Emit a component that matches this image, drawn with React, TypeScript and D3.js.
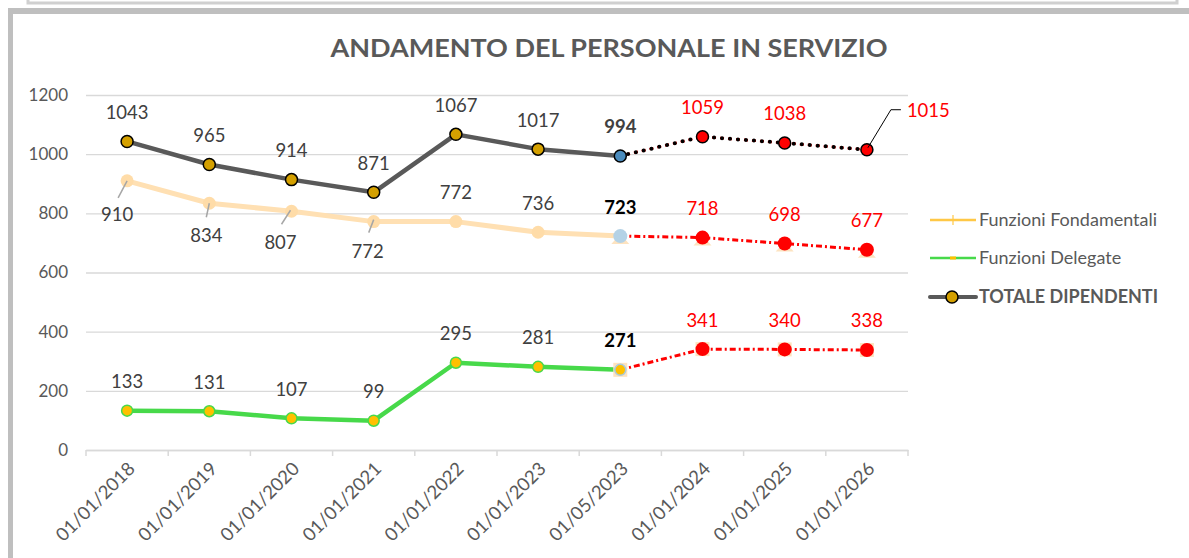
import React, { useEffect, useRef } from 'react';
import * as d3 from 'd3';

// dati
const categories = [
  '01/01/2018', '01/01/2019', '01/01/2020', '01/01/2021', '01/01/2022',
  '01/01/2023', '01/05/2023', '01/01/2024', '01/01/2025', '01/01/2026'
];
const totale = [1043, 965, 914, 871, 1067, 1017, 994, 1059, 1038, 1015];
const fondamentali = [910, 834, 807, 772, 772, 736, 723, 718, 698, 677];
const delegate = [133, 131, 107, 99, 295, 281, 271, 341, 340, 338];
const yTicks = [0, 200, 400, 600, 800, 1000, 1200];
const title = 'ANDAMENTO DEL PERSONALE IN SERVIZIO';
const legendLabels = ['Funzioni Fondamentali', 'Funzioni Delegate', 'TOTALE DIPENDENTI'];

// index of the last actual value (after that = projections)
const lastReal = 6;

const FONT = 'Lato, "Open Sans", sans-serif';

export default function App() {
  const ref = useRef<SVGSVGElement>(null);

  useEffect(() => {
    const svg = d3.select(ref.current);
    svg.selectAll('*').remove();

    // frame / surrounding boxes
    svg.append('path')
      .attr('d', 'M28,0 V3 H1177 V0')
      .attr('fill', 'none').attr('stroke', '#d0d0d0').attr('stroke-width', 3);
    svg.append('rect').attr('x', 8).attr('y', 8).attr('width', 1200).attr('height', 6).attr('fill', '#bfbfbf');
    svg.append('rect').attr('x', 8).attr('y', 8).attr('width', 5).attr('height', 560).attr('fill', '#bfbfbf');

    const x = d3.scaleBand<string>().domain(categories).range([86, 908]);
    const y = d3.scaleLinear().domain([0, 1200]).range([450, 95]);
    const cx = (i: number) => (x(categories[i]) as number) + x.bandwidth() / 2;

    // title
    svg.append('text')
      .attr('x', 609).attr('y', 57)
      .attr('text-anchor', 'middle')
      .attr('font-family', FONT).attr('font-weight', 'bold').attr('font-size', 25)
      .attr('fill', '#595959')
      .attr('textLength', 557).attr('lengthAdjust', 'spacingAndGlyphs')
      .text(title);

    // y axis with gridlines
    const yAxis = svg.append('g')
      .attr('transform', 'translate(86,0)')
      .call(d3.axisLeft(y).tickValues(yTicks).tickFormat(d3.format('d')).tickSize(-822).tickPadding(18));
    yAxis.select('.domain').remove();
    yAxis.selectAll('line').attr('stroke', '#d9d9d9').attr('stroke-width', 1.3);
    yAxis.selectAll('text')
      .attr('font-family', FONT).attr('font-size', 17).attr('fill', '#595959');

    // x axis
    const xAxis = svg.append('g')
      .attr('transform', 'translate(0,450)')
      .call(d3.axisBottom(x).tickSize(0).tickPadding(0));
    xAxis.select('.domain').attr('stroke', '#d9d9d9').attr('stroke-width', 1.5);
    xAxis.selectAll('text')
      .attr('font-family', FONT).attr('font-size', 18.5).attr('fill', '#595959')
      .attr('text-anchor', 'end')
      .attr('dy', 0)
      .attr('transform', 'translate(9,20) rotate(-45)');
    const bounds = d3.range(categories.length + 1).map(i => 86 + i * x.bandwidth());
    svg.append('g').selectAll('line').data(bounds).join('line')
      .attr('x1', d => d).attr('x2', d => d)
      .attr('y1', 450).attr('y2', 456)
      .attr('stroke', '#d9d9d9').attr('stroke-width', 1.5);

    const line = d3.line<number>().x((_, i) => cx(i)).y(d => y(d));
    const realPart = (arr: number[]) => arr.slice(0, lastReal + 1);
    const projLine = d3.line<number>().x((_, i) => cx(i + lastReal)).y(d => y(d));
    const projPart = (arr: number[]) => arr.slice(lastReal);

    // --- Funzioni Fondamentali
    svg.append('path').attr('d', line(realPart(fondamentali)))
      .attr('fill', 'none').attr('stroke', '#ffe0b3').attr('stroke-width', 5).attr('stroke-linejoin', 'round');
    svg.append('path').attr('d', projLine(projPart(fondamentali)))
      .attr('fill', 'none').attr('stroke', '#ff0000').attr('stroke-width', 3)
      .attr('stroke-dasharray', '6 3 2 3');
    svg.append('g').selectAll('circle').data(realPart(fondamentali).slice(0, lastReal)).join('circle')
      .attr('cx', (_, i) => cx(i)).attr('cy', d => y(d)).attr('r', 6.5).attr('fill', '#ffdca8');
    svg.append('g').selectAll('path').data(fondamentali.slice(lastReal)).join('path')
      .attr('d', (d, i) => {
        const px = cx(i + lastReal), py = y(d);
        return `M${px - 9},${py + 8} L${px},${py - 2} L${px + 9},${py + 8} Z`;
      })
      .attr('fill', '#fde3c0');
    svg.append('circle').attr('cx', cx(lastReal)).attr('cy', y(fondamentali[lastReal])).attr('r', 7).attr('fill', '#b4d2e6');
    svg.append('g').selectAll('circle').data(fondamentali.slice(lastReal + 1)).join('circle')
      .attr('cx', (_, i) => cx(i + lastReal + 1)).attr('cy', d => y(d)).attr('r', 7).attr('fill', '#ff0000');

    // --- Funzioni Delegate
    svg.append('path').attr('d', line(realPart(delegate)))
      .attr('fill', 'none').attr('stroke', '#47d94a').attr('stroke-width', 4.5).attr('stroke-linejoin', 'round');
    svg.append('path').attr('d', projLine(projPart(delegate)))
      .attr('fill', 'none').attr('stroke', '#ff0000').attr('stroke-width', 3)
      .attr('stroke-dasharray', '6 3 2 3');
    svg.append('g').selectAll('rect').data(delegate.slice(lastReal)).join('rect')
      .attr('x', (_, i) => cx(i + lastReal) - 7).attr('y', d => y(d) - 7)
      .attr('width', 14).attr('height', 14).attr('fill', '#fde3c0');
    svg.append('g').selectAll('circle').data(realPart(delegate).slice(0, lastReal)).join('circle')
      .attr('cx', (_, i) => cx(i)).attr('cy', d => y(d)).attr('r', 5.5)
      .attr('fill', '#ffc000').attr('stroke', '#47d94a').attr('stroke-width', 1.5);
    svg.append('circle').attr('cx', cx(lastReal)).attr('cy', y(delegate[lastReal])).attr('r', 5.5)
      .attr('fill', '#ffc000').attr('stroke', '#a9cbe0').attr('stroke-width', 1.5);
    svg.append('g').selectAll('circle').data(delegate.slice(lastReal + 1)).join('circle')
      .attr('cx', (_, i) => cx(i + lastReal + 1)).attr('cy', d => y(d)).attr('r', 7).attr('fill', '#ff0000');

    // --- Totale dipendenti
    svg.append('path').attr('d', line(realPart(totale)))
      .attr('fill', 'none').attr('stroke', '#595959').attr('stroke-width', 4.5).attr('stroke-linejoin', 'round');
    svg.append('path').attr('d', projLine(projPart(totale)))
      .attr('fill', 'none').attr('stroke', '#ff0000').attr('stroke-width', 2.5)
      .attr('stroke-dasharray', '4 4').attr('stroke-dashoffset', 2);
    svg.append('path').attr('d', projLine(projPart(totale)))
      .attr('fill', 'none').attr('stroke', '#000').attr('stroke-width', 4)
      .attr('stroke-linecap', 'round').attr('stroke-dasharray', '0 8');
    svg.append('g').selectAll('circle').data(realPart(totale).slice(0, lastReal)).join('circle')
      .attr('cx', (_, i) => cx(i)).attr('cy', d => y(d)).attr('r', 6)
      .attr('fill', '#d4a000').attr('stroke', '#000').attr('stroke-width', 1.5);
    svg.append('circle').attr('cx', cx(lastReal)).attr('cy', y(totale[lastReal])).attr('r', 6)
      .attr('fill', '#4a8bbd').attr('stroke', '#000').attr('stroke-width', 1.5);
    svg.append('g').selectAll('circle').data(totale.slice(lastReal + 1)).join('circle')
      .attr('cx', (_, i) => cx(i + lastReal + 1)).attr('cy', d => y(d)).attr('r', 6)
      .attr('fill', '#ff0000').attr('stroke', '#000').attr('stroke-width', 1.5);

    // --- data labels
    const labelColor = (i: number) => (i < lastReal ? '#404040' : i === lastReal ? '#000' : '#ff0000');
    const addLabels = (arr: number[], offsets: Record<number, [number, number]>, boldColor: string) => {
      svg.append('g').selectAll('text').data(arr).join('text')
        .attr('x', (_, i) => cx(i) + (offsets[i] ? offsets[i][0] : 0))
        .attr('y', (d, i) => y(d) + (offsets[i] ? offsets[i][1] : -29))
        .attr('dy', '0.35em')
        .attr('text-anchor', (_, i) => (offsets[i] && offsets[i][0] > 30 ? 'start' : 'middle'))
        .attr('font-family', FONT).attr('font-size', 18.5)
        .attr('font-weight', (_, i) => (i === lastReal ? 'bold' : 'normal'))
        .attr('fill', (_, i) => (i === lastReal ? boldColor : labelColor(i)))
        .text(d => d);
    };
    addLabels(totale, { 9: [40, -39] }, '#404040');
    addLabels(fondamentali, { 0: [-10, 34], 1: [-3, 32], 2: [-11, 31], 3: [-6, 30] }, '#000');
    addLabels(delegate, {}, '#000');

    // leader lines
    const leaders: [number, number, number, number, number][] = [
      [0, 0, 0, -9, 17],
      [1, 0, 0, -3, 14],
      [2, -1, -1, -10, 13],
      [3, 0, -2, -5, 11]
    ];
    svg.append('g').selectAll('line').data(leaders).join('line')
      .attr('x1', d => cx(d[0]) + d[1]).attr('y1', d => y(fondamentali[d[0]]) + d[2])
      .attr('x2', d => cx(d[0]) + d[3]).attr('y2', d => y(fondamentali[d[0]]) + d[4])
      .attr('stroke', '#a6a6a6').attr('stroke-width', 1.5);
    const px = cx(9), py = y(totale[9]);
    svg.append('path')
      .attr('d', `M${px + 1},${py - 2} L${px + 24},${py - 40} L${px + 34},${py - 40}`)
      .attr('fill', 'none').attr('stroke', '#000').attr('stroke-width', 1);

    // legend
    const lg = svg.append('g').attr('transform', 'translate(930,0)');
    const ly = [220, 258, 297];
    lg.append('line').attr('x1', 0).attr('x2', 46).attr('y1', ly[0]).attr('y2', ly[0])
      .attr('stroke', '#ffc846').attr('stroke-width', 2.5);
    lg.append('line').attr('x1', 23).attr('x2', 23).attr('y1', ly[0] - 5).attr('y2', ly[0] + 5)
      .attr('stroke', '#ffc846').attr('stroke-width', 1.2);
    lg.append('line').attr('x1', 0).attr('x2', 46).attr('y1', ly[1]).attr('y2', ly[1])
      .attr('stroke', '#47d94a').attr('stroke-width', 2.5);
    lg.append('rect').attr('x', 20).attr('y', ly[1] - 1.5).attr('width', 6).attr('height', 3).attr('fill', '#ffc000');
    lg.append('line').attr('x1', 0).attr('x2', 46).attr('y1', ly[2]).attr('y2', ly[2])
      .attr('stroke', '#595959').attr('stroke-width', 4).attr('stroke-linecap', 'round');
    lg.append('circle').attr('cx', 22).attr('cy', ly[2]).attr('r', 6)
      .attr('fill', '#d4a000').attr('stroke', '#000').attr('stroke-width', 1.5);
    lg.selectAll('text.lg').data(legendLabels).join('text')
      .attr('class', 'lg')
      .attr('x', 49).attr('y', (_, i) => ly[i]).attr('dy', '0.35em')
      .attr('font-family', FONT).attr('font-size', 18)
      .attr('font-weight', (_, i) => (i === 2 ? 'bold' : 'normal'))
      .attr('fill', '#595959')
      .text(d => d);
  }, []);

  return (
    <svg
      ref={ref}
      width={1189}
      height={558}
      style={{ position: 'absolute', left: 0, top: 0, background: '#fff' }}
    />
  );
}
